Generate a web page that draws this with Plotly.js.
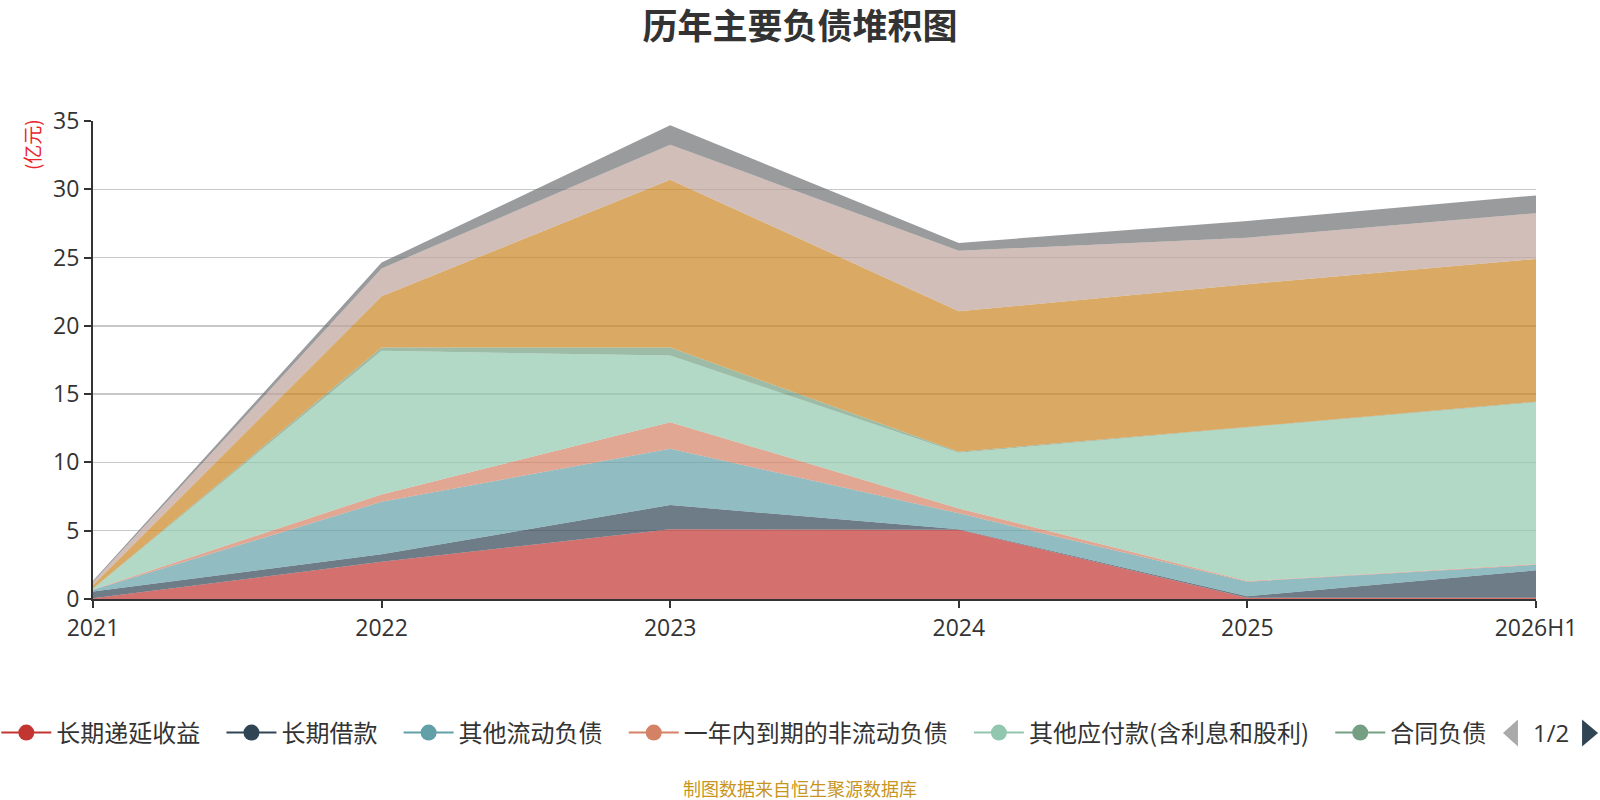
<!DOCTYPE html>
<html>
<head>
<meta charset="utf-8">
<script src="https://cdn.plot.ly/plotly-3.0.1.min.js"></script>
<style>
  html, body { margin: 0; padding: 0; background: #fff; }
  #chart { width: 1600px; height: 800px; }
</style>
</head>
<body>
<div id="chart"></div>
<script>
// === Data (亿元) === //
var years = ['2021', '2022', '2023', '2024', '2025', '2026H1'];

var seriesNames = ['长期递延收益', '长期借款', '其他流动负债', '一年内到期的非流动负债',
                   '其他应付款(含利息和股利)', '合同负债', '应付账款', '应付职工薪酬', '应交税费'];

var deferredIncome  = [0.05, 2.73, 5.10, 5.07, 0.10, 0.10];
var longLoans       = [0.50, 0.54, 1.78, 0.03, 0.10, 2.00];
var otherCurrent    = [0.12, 3.85, 4.12, 1.17, 1.07, 0.40];
var currentPortion  = [0.03, 0.54, 1.95, 0.36, 0.05, 0.05];
var otherPayables   = [0.05, 10.51, 4.88, 4.07, 11.24, 11.85];
var contractLiab    = [0.02, 0.24, 0.58, 0.08, 0.04, 0.05];
var accountsPayable = [0.25, 3.76, 12.29, 10.29, 10.45, 10.45];
var staffPay        = [0.22, 2.03, 2.57, 4.43, 3.41, 3.35];
var taxesPayable    = [0.10, 0.43, 1.41, 0.57, 1.22, 1.30];

var allSeries = [deferredIncome, longLoans, otherCurrent, currentPortion, otherPayables,
                 contractLiab, accountsPayable, staffPay, taxesPayable];

var colors = ['#c23531', '#2f4554', '#61a0a8', '#d48265', '#91c7ae',
              '#749f83', '#ca8622', '#bda29a', '#6e7074'];

var legendOnPage = 6;   // first legend page only

// === Helpers === //
function toRgba(hex, a){
    var r = parseInt(hex.substr(1,2),16);
    var g = parseInt(hex.substr(3,2),16);
    var b = parseInt(hex.substr(5,2),16);
    return 'rgba(' + r + ',' + g + ',' + b + ',' + a + ')';
};

var font = '"Noto Sans CJK SC", "Noto Sans", sans-serif';
var numFont = '"Open Sans", "Noto Sans CJK SC", sans-serif';

// === Traces === //
var traces = [];

// stacked areas
for(i=0;i<allSeries.length;i++){
    traces.push({
        x: years,
        y: allSeries[i],
        name: seriesNames[i],
        type: 'scatter',
        mode: 'lines',
        stackgroup: 'one',
        line: {width: 0, color: colors[i]},
        fillcolor: toRgba(colors[i], 0.7),
        showlegend: false,
        hoverinfo: 'skip'
    });
};

// legend entries (line + circle like the original), trailing nbsp for item gap
for(i=0;i<legendOnPage;i++){
    traces.push({
        x: [null],
        y: [null],
        name: seriesNames[i] + '\u00a0\u00a0\u00a0',
        type: 'scatter',
        mode: 'lines+markers',
        line: {width: 2, color: colors[i]},
        marker: {size: 22, color: colors[i]},
        showlegend: true
    });
};

// === Layout === //
var legendY = -0.2802;

var layout = {
    width: 1600,
    height: 800,
    paper_bgcolor: '#fff',
    plot_bgcolor: '#fff',
    font: {family: font, color: '#333'},
    margin: {l: 93, r: 64, t: 121, b: 201, autoexpand: false},
    title: {
        text: '<b>历年主要负债堆积图</b>',
        x: 0.5, xanchor: 'center',
        y: 0.966, yanchor: 'middle',
        font: {size: 35, color: '#333', family: font}
    },
    xaxis: {
        type: 'category',
        range: [0, years.length - 1],
        showgrid: false,
        zeroline: false,
        showline: true,
        linecolor: '#333',
        linewidth: 2,
        ticks: 'outside',
        ticklen: 7,
        tickcolor: '#333',
        tickwidth: 2,
        tickfont: {size: 23, color: '#333', family: numFont}
    },
    yaxis: {
        range: [0, 35],
        dtick: 5,
        showgrid: true,
        gridcolor: '#c8c8c8',
        gridwidth: 1.5,
        zeroline: false,
        showline: true,
        linecolor: '#333',
        linewidth: 2,
        ticks: 'outside',
        ticklen: 7,
        tickcolor: '#333',
        tickwidth: 2,
        tickfont: {size: 23, color: '#333', family: numFont}
    },
    showlegend: true,
    legend: {
        orientation: 'h',
        traceorder: 'normal',
        x: -0.067, xanchor: 'left',
        y: legendY, yanchor: 'middle',
        font: {size: 24, color: '#333', family: font},
        itemwidth: 50,
        bgcolor: 'rgba(0,0,0,0)'
    },
    // legend page arrows
    shapes: [
        {
            type: 'path', xref: 'paper', yref: 'paper',
            path: 'M 0.9771 -0.2802 L 0.9875 -0.2520 L 0.9875 -0.3084 Z',
            fillcolor: '#aaaaaa', line: {width: 0}
        },
        {
            type: 'path', xref: 'paper', yref: 'paper',
            path: 'M 1.0430 -0.2802 L 1.0319 -0.2520 L 1.0319 -0.3084 Z',
            fillcolor: '#2f4554', line: {width: 0}
        }
    ],
    annotations: [
        {
            text: '(亿元)', xref: 'paper', yref: 'paper',
            x: -0.0425, y: 0.951, xanchor: 'center', yanchor: 'middle',
            textangle: -90, showarrow: false,
            font: {size: 19, color: '#e8262b', family: font}
        },
        {
            text: '1/2', xref: 'paper', yref: 'paper',
            x: 1.0104, y: legendY, xanchor: 'center', yanchor: 'middle', showarrow: false,
            font: {size: 24, color: '#333', family: numFont}
        },
        {
            text: '制图数据来自恒生聚源数据库', xref: 'paper', yref: 'paper',
            x: 0.4901, y: -0.395, xanchor: 'center', yanchor: 'middle', showarrow: false,
            font: {size: 18, color: '#c8961e', family: font}
        }
    ]
};

Plotly.newPlot('chart', traces, layout, {displayModeBar: false, staticPlot: true});
</script>
</body>
</html>
